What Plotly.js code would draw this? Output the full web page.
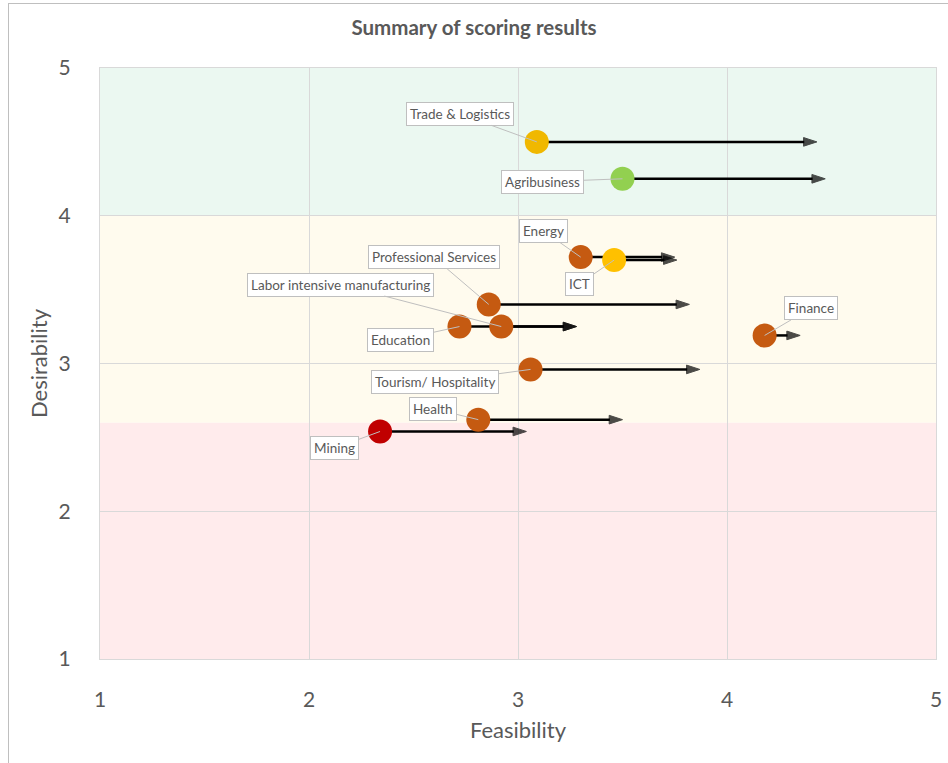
<!DOCTYPE html>
<html>
<head>
<meta charset="utf-8">
<script src="https://cdn.plot.ly/plotly-3.0.1.min.js"></script>
<style>
  html, body { margin: 0; padding: 0; background: #fff; }
  #wrap { position: relative; width: 948px; height: 763px; overflow: hidden; }
  #frame { position: absolute; left: 8px; top: 3px; width: 960px; height: 800px;
           border-left: 1px solid #BFBFBF; border-top: 1px solid #BFBFBF; pointer-events: none; }
  #chart { position: absolute; left: 0; top: 0; width: 948px; height: 763px; }
</style>
</head>
<body>
<div id="wrap">
  <div id="chart"></div>
  <div id="frame"></div>
</div>
<script>
// Sector scores: current feasibility/desirability and the feasibility target each arrow reaches
const sectors = ["Trade & Logistics", "Agribusiness", "Energy", "ICT", "Professional Services",
  "Labor intensive manufacturing", "Education", "Finance", "Tourism/ Hospitality", "Health", "Mining"];
const feasibility = [3.09, 3.50, 3.30, 3.46, 2.86, 2.92, 2.72, 4.18, 3.06, 2.81, 2.34];
const desirability = [4.50, 4.25, 3.72, 3.70, 3.40, 3.25, 3.25, 3.19, 2.96, 2.62, 2.54];
const feasibilityTarget = [4.43, 4.47, 3.75, 3.76, 3.82, 3.28, 3.28, 4.35, 3.87, 3.50, 3.04];
const sectorColors = ["#F0B800", "#92D050", "#C55A11", "#FFC000", "#C55A11",
  "#C55A11", "#C55A11", "#C55A11", "#C55A11", "#C55A11", "#C00000"];

// Pixel offsets for each callout box relative to its dot
const calloutOffsets = [[-77, -28], [-80, 3], [-37, -26], [-35, 24], [-55, -47],
  [-161, -42], [-59, 13], [46, -27], [-96, 13], [-45, -11], [-46, 17]];

// Zone boundaries on the desirability axis
const zoneEdges = [1, 2.6, 4, 5];
const zoneColors = ["#FFEBEC", "#FFFBEE", "#EBF8F1"];

const axisTicks = [1, 2, 3, 4, 5];
const textGray = "#595959";
const font = "Lato, 'Open Sans', sans-serif";

const traces = [];

// Movement arrows (drawn first so the dots sit on top)
sectors.forEach((name, i) => {
  traces.push({
    type: "scatter",
    mode: "lines+markers",
    x: [feasibility[i], feasibilityTarget[i]],
    y: [desirability[i], desirability[i]],
    line: { color: "#000000", width: 2.5 },
    marker: { symbol: "arrow", angleref: "previous", size: [0, 14], color: "#000000",
              line: { color: "#000000", width: 1 } },
    hoverinfo: "skip",
    showlegend: false
  });
});

// Sector dots
traces.push({
  type: "scatter",
  mode: "markers",
  x: feasibility,
  y: desirability,
  text: sectors,
  marker: { size: 24, color: sectorColors, line: { width: 0 } },
  hoverinfo: "text",
  showlegend: false
});

const shapes = zoneColors.map((c, i) => ({
  type: "rect", xref: "paper", yref: "y", layer: "below",
  x0: 0, x1: 1, y0: zoneEdges[i], y1: zoneEdges[i + 1],
  fillcolor: c, line: { width: 0 }
}));

const annotations = sectors.map((name, i) => ({
  x: feasibility[i], y: desirability[i], xref: "x", yref: "y",
  text: name,
  showarrow: true, arrowhead: 0, arrowwidth: 1, arrowcolor: "#BFBFBF", standoff: 0,
  ax: calloutOffsets[i][0], ay: calloutOffsets[i][1],
  bgcolor: "#FFFFFF", bordercolor: "#BFBFBF", borderwidth: 1, borderpad: 3,
  font: { family: font, size: 13.5, color: textGray }
}));

const layout = {
  width: 948, height: 763,
  margin: { l: 100, r: 12, t: 68, b: 104 },
  paper_bgcolor: "#FFFFFF",
  plot_bgcolor: "#FFFFFF",
  title: {
    text: "<b>Summary of scoring results</b>",
    font: { family: font, size: 20.5, color: textGray },
    x: 0.5, xanchor: "center", y: 0.963, yanchor: "middle"
  },
  xaxis: {
    range: [1, 5], tickvals: axisTicks, ticktext: axisTicks.map(String),
    showgrid: true, gridcolor: "#D9D9D9", gridwidth: 1,
    zeroline: false, showline: true, linecolor: "#D9D9D9", mirror: true,
    ticks: "", ticklabelstandoff: 22,
    tickfont: { family: font, size: 21, color: textGray },
    title: { text: "Feasibility", font: { family: font, size: 22, color: textGray }, standoff: 12 },
    fixedrange: true
  },
  yaxis: {
    range: [1, 5], tickvals: axisTicks, ticktext: axisTicks.map(String),
    showgrid: true, gridcolor: "#D9D9D9", gridwidth: 1,
    zeroline: false, showline: true, linecolor: "#D9D9D9", mirror: true,
    ticks: "", ticklabelstandoff: 24,
    tickfont: { family: font, size: 21, color: textGray },
    title: { text: "Desirability", font: { family: font, size: 22, color: textGray }, standoff: 4 },
    fixedrange: true
  },
  shapes: shapes,
  annotations: annotations,
  showlegend: false
};

Plotly.newPlot("chart", traces, layout, { displayModeBar: false, staticPlot: true });
</script>
</body>
</html>
